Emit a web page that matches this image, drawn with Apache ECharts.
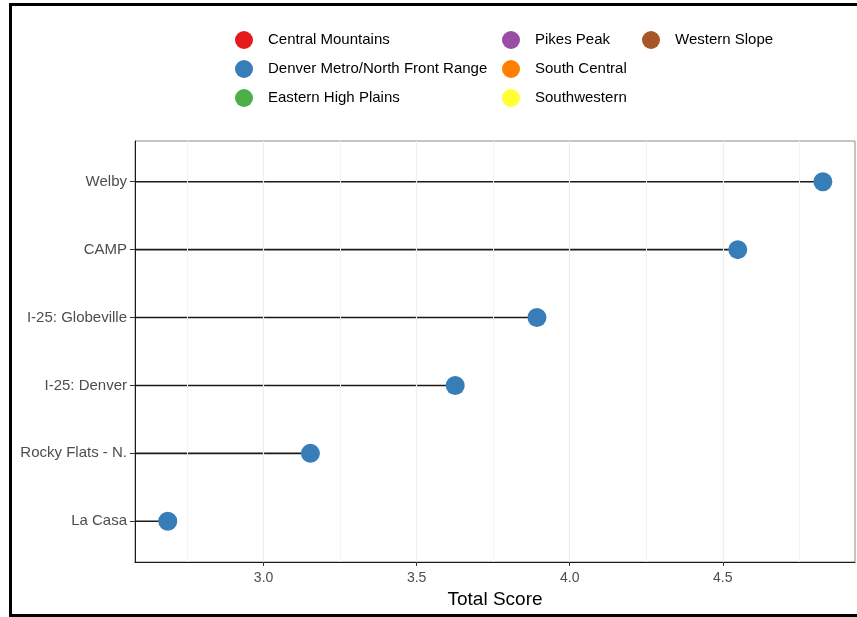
<!DOCTYPE html>
<html>
<head>
<meta charset="utf-8">
<script src="https://cdn.jsdelivr.net/npm/echarts@6/dist/echarts.min.js"></script>
<style>
html,body{margin:0;padding:0;background:#fff;}
#chart{width:857px;height:617px;}
</style>
</head>
<body>
<div id="chart"></div>
<script>
// Sites, bottom to top
const sites = ['La Casa', 'Rocky Flats - N.', 'I-25: Denver', 'I-25: Globeville', 'CAMP', 'Welby'];
const scores = [2.687, 3.153, 3.626, 3.893, 4.549, 4.827];
const siteRegion = 'Denver Metro/North Front Range';

const regions = ['Central Mountains', 'Denver Metro/North Front Range', 'Eastern High Plains',
                 'Pikes Peak', 'South Central', 'Southwestern', 'Western Slope'];
const regionColors = ['#E41A1C', '#377EB8', '#4DAF4A', '#984EA3', '#FF7F00', '#FFFF33', '#A65628'];

const xTicks = [3.0, 3.5, 4.0, 4.5];
const xMinorTicks = [2.75, 3.25, 3.75, 4.25, 4.75];
const xMin = 2.58, xMax = 4.932;

const pointData = scores.map((v, i) => [v, i]);

const font = '"Liberation Sans", Arial, sans-serif';

const regionSeries = regions.map((name, i) => ({
  name: name,
  type: 'scatter',
  symbol: 'circle',
  symbolSize: 19,
  itemStyle: { color: regionColors[i], opacity: 1 },
  data: name === siteRegion ? pointData : [],
  z: 5
}));

const legendCommon = {
  orient: 'vertical',
  top: 31,
  padding: 0,
  itemGap: 11,
  itemWidth: 18,
  itemHeight: 18,
  icon: 'circle',
  selectedMode: false,
  textStyle: { fontFamily: font, fontSize: 15, color: '#000', padding: [0, 0, 0, 10] }
};

const option = {
  animation: false,
  backgroundColor: '#fff',
  legend: [
    Object.assign({}, legendCommon, { left: 235, data: regions.slice(0, 3) }),
    Object.assign({}, legendCommon, { left: 502, data: regions.slice(3, 6) }),
    Object.assign({}, legendCommon, { left: 642, data: regions.slice(6) })
  ],
  grid: {
    left: 135, right: 2, top: 141, bottom: 55,
    show: true, borderColor: '#8a8a8a', borderWidth: 1, backgroundColor: '#fff'
  },
  xAxis: {
    type: 'value',
    min: xMin, max: xMax,
    name: 'Total Score',
    nameLocation: 'middle',
    nameGap: 27,
    nameTextStyle: { fontFamily: font, fontSize: 19, color: '#000' },
    axisLine: { show: true, onZero: false, lineStyle: { color: '#1a1a1a', width: 1 } },
    axisTick: { show: true, length: 4, customValues: xTicks, lineStyle: { color: '#333' } },
    axisLabel: {
      customValues: xTicks, margin: 9,
      fontFamily: font, fontSize: 14, color: '#4d4d4d',
      formatter: v => v.toFixed(1)
    },
    splitLine: { show: false }
  },
  yAxis: {
    type: 'value',
    min: -0.6, max: 5.6,
    axisLine: { show: true, onZero: false, lineStyle: { color: '#1a1a1a', width: 1 } },
    axisTick: { show: true, length: 5, customValues: [0, 1, 2, 3, 4, 5], lineStyle: { color: '#333' } },
    axisLabel: {
      customValues: [0, 1, 2, 3, 4, 5], margin: 8,
      fontFamily: font, fontSize: 15, color: '#4d4d4d',
      formatter: v => sites[Math.round(v)]
    },
    splitLine: { show: false }
  },
  graphic: [{
    type: 'rect',
    shape: { x: 10.5, y: 4.5, width: 900, height: 611 },
    style: { fill: null, stroke: '#000', lineWidth: 3 },
    silent: true, z: 100
  }],
  series: [
    {
      type: 'custom',
      name: 'gridlines',
      silent: true,
      data: [],
      z: 1,
      markLine: {
        silent: true, symbol: 'none', animation: false,
        label: { show: false },
        data: xTicks.map(v => ({ xAxis: v, lineStyle: { color: '#ededed', width: 1.2, type: 'solid' } }))
          .concat(xMinorTicks.map(v => ({ xAxis: v, lineStyle: { color: '#f4f4f4', width: 1, type: 'solid' } })))
      },
      renderItem: () => null
    },
    {
      type: 'custom',
      name: 'segments',
      silent: true,
      z: 3,
      encode: { x: 0, y: 1 },
      data: pointData,
      renderItem: (params, api) => {
        const y = api.value(1);
        const p0 = api.coord([xMin, y]);
        const p1 = api.coord([api.value(0), y]);
        return {
          type: 'line',
          shape: { x1: p0[0], y1: p0[1], x2: p1[0], y2: p1[1] },
          style: { stroke: '#1a1a1a', lineWidth: 1.6 }
        };
      }
    }
  ].concat(regionSeries)
};

const chart = echarts.init(document.getElementById('chart'), null, { renderer: 'canvas' });
chart.setOption(option);
</script>
</body>
</html>
